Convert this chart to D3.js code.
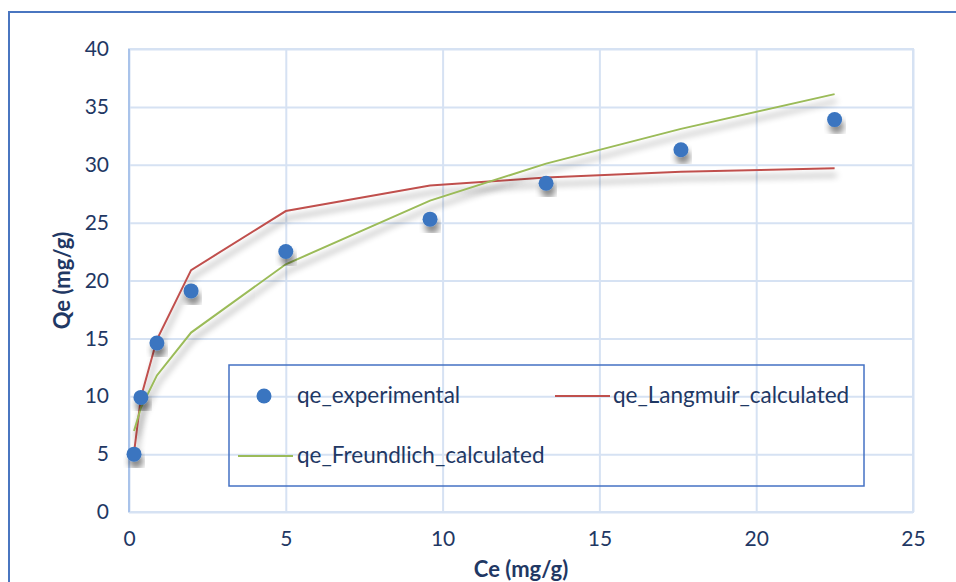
<!DOCTYPE html>
<html>
<head>
<meta charset="utf-8">
<script src="https://cdn.jsdelivr.net/npm/d3@7"></script>
<style>
  body { margin: 0; background: #fff; }
  text { font-family: Lato, "Open Sans", sans-serif; fill: #1f3864; }
</style>
</head>
<body>
<div id="chart"></div>
<script>
var svgWidth = 956;
var svgHeight = 582;

var margin = { top: 49, right: 43, bottom: 70, left: 129 };
var width = 913 - margin.left;
var height = 512 - margin.top;

// data
var ce = [0.16, 0.38, 0.89, 1.98, 5.0, 9.6, 13.3, 17.6, 22.5];
var qeExperimental = [5.0, 9.9, 14.6, 19.1, 22.5, 25.3, 28.4, 31.3, 33.9];
var qeLangmuir = [5.1, 9.9, 14.9, 20.9, 26.0, 28.2, 28.9, 29.4, 29.7];
var qeFreundlich = [7.0, 9.0, 11.8, 15.5, 21.4, 26.9, 30.1, 33.1, 36.1];
var xTicks = [0, 5, 10, 15, 20, 25];
var yTicks = [0, 5, 10, 15, 20, 25, 30, 35, 40];

var svg = d3.select("#chart")
  .append("svg")
  .attr("width", svgWidth)
  .attr("height", svgHeight);

// soft gray shadow like the spreadsheet effect
var defs = svg.append("defs");
var shadow = defs.append("filter")
  .attr("id", "shadow")
  .attr("x", "-20%").attr("y", "-20%")
  .attr("width", "140%").attr("height", "160%");
shadow.append("feDropShadow")
  .attr("dx", 2).attr("dy", 7)
  .attr("stdDeviation", 3)
  .attr("flood-color", "#000")
  .attr("flood-opacity", 0.45);

// outer chart border
svg.append("rect")
  .attr("x", 9).attr("y", 12)
  .attr("width", svgWidth + 20).attr("height", svgHeight + 20)
  .attr("fill", "none")
  .attr("stroke", "#4a76c0")
  .attr("stroke-width", 2);

var chartGroup = svg.append("g")
  .attr("transform", `translate(${margin.left}, ${margin.top})`);

var x = d3.scaleLinear().domain([0, 25]).range([0, width]);
var y = d3.scaleLinear().domain([0, 40]).range([height, 0]);

// gridlines
chartGroup.append("g")
  .call(d3.axisBottom(x).tickValues(xTicks).tickSize(height).tickFormat(""))
  .call(g => g.select(".domain").remove())
  .selectAll("line")
  .attr("stroke", "#d6e2f3")
  .attr("stroke-width", 2);

chartGroup.append("g")
  .call(d3.axisLeft(y).tickValues(yTicks).tickSize(-width).tickFormat(""))
  .call(g => g.select(".domain").remove())
  .selectAll("line")
  .attr("stroke", "#d6e2f3")
  .attr("stroke-width", 2);

// plot area border
chartGroup.append("rect")
  .attr("width", width).attr("height", height)
  .attr("fill", "none")
  .attr("stroke", "#d6e2f3")
  .attr("stroke-width", 2);
chartGroup.append("line")
  .attr("x1", 0).attr("x2", 0)
  .attr("y1", 0).attr("y2", height)
  .attr("stroke", "#a9c3ea")
  .attr("stroke-width", 2);

// tick labels
var xAxis = chartGroup.append("g")
  .attr("transform", `translate(0, ${height})`)
  .call(d3.axisBottom(x).tickValues(xTicks).tickSize(0).tickPadding(19));
xAxis.select(".domain").remove();
xAxis.selectAll("text").attr("font-size", 21).style("font-family", "Lato").attr("fill", "#1f3864");

var yAxis = chartGroup.append("g")
  .call(d3.axisLeft(y).tickValues(yTicks).tickSize(0).tickPadding(20));
yAxis.select(".domain").remove();
yAxis.selectAll("text").attr("font-size", 21).style("font-family", "Lato").attr("fill", "#1f3864");

// series
var series = [
  { name: "qe_Langmuir_calculated", values: qeLangmuir, color: "#c0504d" },
  { name: "qe_Freundlich_calculated", values: qeFreundlich, color: "#9bbb59" }
];

var line = d3.line()
  .x((d, i) => x(ce[i]))
  .y(d => y(d));

series.forEach(function(s) {
  chartGroup.append("path")
    .datum(s.values)
    .attr("d", line)
    .attr("fill", "none")
    .attr("stroke", s.color)
    .attr("stroke-width", 2)
    .attr("filter", "url(#shadow)");
});

chartGroup.selectAll("circle.point")
  .data(qeExperimental)
  .enter()
  .append("circle")
  .attr("class", "point")
  .attr("cx", (d, i) => x(ce[i]))
  .attr("cy", d => y(d))
  .attr("r", 7.5)
  .attr("fill", "#3a75c0")
  .attr("filter", "url(#shadow)");

// legend
var legend = svg.append("g");
legend.append("rect")
  .attr("x", 229).attr("y", 365)
  .attr("width", 635).attr("height", 121)
  .attr("fill", "none")
  .attr("stroke", "#4472c4")
  .attr("stroke-width", 1.5);

legend.append("circle")
  .attr("cx", 264).attr("cy", 396)
  .attr("r", 7.5)
  .attr("fill", "#3a75c0");
legend.append("text")
  .attr("x", 297).attr("y", 403)
  .attr("font-size", 22.5)
  .text("qe_experimental");

legend.append("line")
  .attr("x1", 555).attr("x2", 610)
  .attr("y1", 396).attr("y2", 396)
  .attr("stroke", "#c0504d").attr("stroke-width", 2);
legend.append("text")
  .attr("x", 613).attr("y", 403)
  .attr("font-size", 22.5)
  .text("qe_Langmuir_calculated");

legend.append("line")
  .attr("x1", 238).attr("x2", 293)
  .attr("y1", 456).attr("y2", 456)
  .attr("stroke", "#9bbb59").attr("stroke-width", 2);
legend.append("text")
  .attr("x", 297).attr("y", 463)
  .attr("font-size", 22.5)
  .text("qe_Freundlich_calculated");

// axis titles
svg.append("text")
  .attr("x", margin.left + width / 2)
  .attr("y", 577)
  .attr("text-anchor", "middle")
  .attr("font-size", 22)
  .attr("font-weight", "bold")
  .text("Ce (mg/g)");

svg.append("text")
  .attr("transform", `translate(70, ${margin.top + height / 2}) rotate(-90)`)
  .attr("text-anchor", "middle")
  .attr("font-size", 22)
  .attr("font-weight", "bold")
  .text("Qe (mg/g)");
</script>
</body>
</html>
